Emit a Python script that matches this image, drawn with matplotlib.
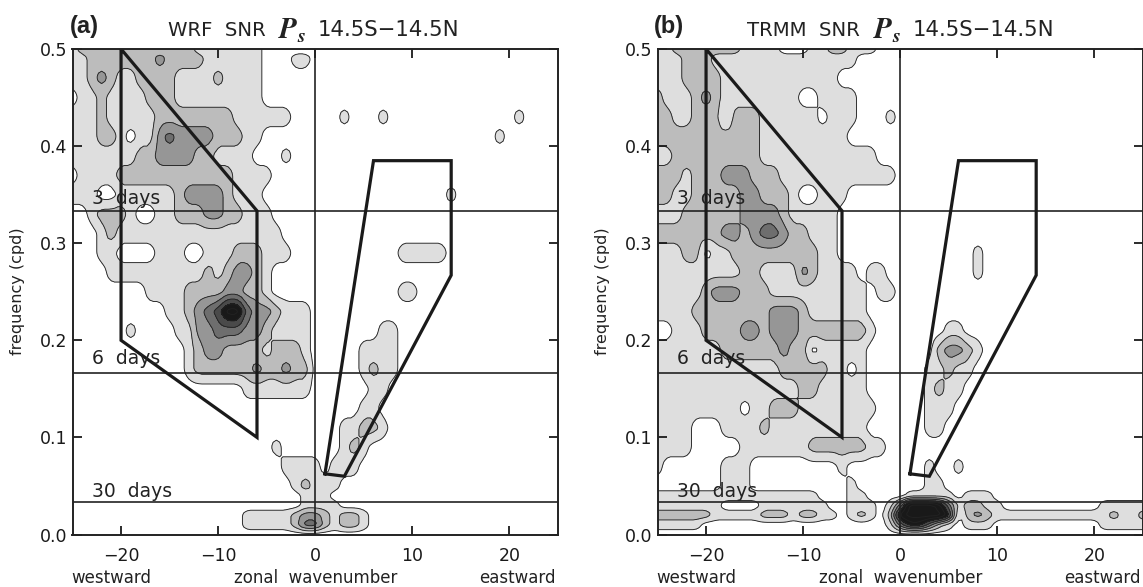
import numpy as np
import matplotlib
matplotlib.use("Agg")
import matplotlib.pyplot as plt

plt.rcParams['font.family'] = ['DejaVu Sans']
plt.rcParams['mathtext.fontset'] = 'stix'

W, H = 1143, 587

wavenumbers = list(range(-25, 26))
frequencies = [.50, .49, .47, .45, .43, .41, .39, .37, .35, .33, .31, .29, .27, .25, .23,
               .21, .19, .17, .15, .13, .11, .09, .07, .05, .04, .03, .02, .01, .00]

# SNR class per cell. Columns: k = -25.. in groups of five.
wrf_rows = [
    "12222 22222 22211 11111",
    "11222 22223 22221 11111 00011",
    "11232 11222 21111 21111",
    "01121 11122 21111 11111",
    "11121 11112 22222 22111 11100 00010 00100 00000 00000 01000",
    "11122 10113 43333 22211 00000 00000 00000 00000 00001",
    "11111 11223 33322 11110 00100",
    "01111 22222 22222 22111 10000",
    "11100 11111 12333 32111 00000 00000 00000 00001",
    "00122 21001 12223 32211 10000",
    "00012 11111 11111 11111 11000",
    "00011 00001 11001 11222 11100 00000 00001 11110",
    "00001 11111 11112 12332 10000",
    "00000 00011 11222 23322 10000 00000 00001 10000",
    "00000 00000 11234 57743 32111",
    "00000 01000 01133 44433 21111 00000 00110",
    "00000 00000 00123 32222 12221 00000 11110",
    "00000 00000 00122 22223 22322 00000 12110",
    "00000 00000 00000 00011 11111 00000 01100",
    "00000 00000 00000 00000 00000 00000 11000",
    "00000 00000 00000 00000 00000 00011 22100",
    "00000 00000 00000 00000 01000 00012 10000",
    "00000 00000 00000 00000 00111 10111",
    "00000 00000 00000 00000 00012 11100",
    "00000 00000 00000 00000 00001 11000",
    "00000 00000 00000 00000 00001 11100",
    "00000 00000 00000 00011 11123 32122 10000",
    "00000 00000 00000 00011 11124 42122 10000",
    "",
]

trmm_rows = [
    "11222 22221 11100 01122 11100",
    "11122 21111 11111 11111 10000",
    "11122 22111 11111 11110",
    "21112 32111 11111 00111 10000",
    "22112 22022 21111 11011 10001",
    "22222 22222 21111 11111",
    "11222 22222 21111 11111 11100",
    "22212 22333 22211 11111 11111",
    "22112 22223 32221 00111",
    "11122 22223 33321 11110",
    "22222 22332 34432 21110",
    "11122 01122 22222 22110 00000 00000 00010",
    "11111 11112 21111 32111 10110 00000 00010",
    "11111 23332 22111 11111 11011",
    "11112 22222 22333 21111 11000",
    "00111 22223 32333 22222 22100 00000 11000",
    "11111 11222 22232 20111 11000 00002 33210",
    "11111 11111 11122 22211 01000 00011 21100",
    "11111 11111 11111 22111 11000 00012 11000",
    "11111 11110 11222 11111 11100 00011 10000",
    "11110 00111 12111 11111 11000 00011",
    "11110 00001 11111 12222 22110",
    "10000 00111 00000 00001 00000 00010 01000",
    "00000 00111 00000 00000 10000 00011",
    "11111 11111 11111 11000 11000 01111 10111",
    "11111 11000 01111 11100 11101 48887 41221 10000 00000 01111 1",
    "22222 21111 12221 22110 12102 78888 60232 11111 11111 11211 2",
    "11111 00000 00000 00000 00001 46642 10111 00000 00000 01111 1",
    "",
]

westward_box_k = [-20, -6, -6, -20, -20]
westward_box_f = [.5, 1/3, .1, .2, .5]
eastward_box_k = [1, 3, 14, 14, 6, 1]
eastward_box_f = [.0625, .06, .267, .385, .385, .0625]
period_days = [3, 6, 30]
period_labels = ["3  days", "6  days", "30  days"]
period_label_f = [.3465, .1815, .0445]
xticks = [-20, -10, 0, 10, 20]
xticklabels = ["\u221220", "\u221210", "0", "10", "20"]
yticks = [0, .1, .2, .3, .4, .5]
yticklabels = ["0.0", "0.1", "0.2", "0.3", "0.4", "0.5"]
levels = [.5, 1.5, 2.5, 3.5, 4.5, 5.5, 9]
greys = ["#dedede", "#bcbcbc", "#969696", "#6e6e6e", "#4a4a4a", "#191919"]
rings = [.5, 1.5, 2.5, 3.5, 4.5, 5.5, 6.5, 7.5]


def parse(rows):
    out = []
    for r in rows:
        s = r.replace(" ", "").ljust(len(wavenumbers), "0")
        out.append([int(c) for c in s])
    return np.array(out, dtype=float)


def refine(Z):
    """Put the coarse table on a finer mesh and soften its corners a little."""
    k = np.array(wavenumbers, float)
    f = np.array(frequencies)[::-1]
    kk = np.linspace(-25, 25, 151)
    ff = np.linspace(0, .5, 301)
    A = np.array([np.interp(kk, k, row) for row in Z[::-1]])
    B = np.array([np.interp(ff, f, col) for col in A.T]).T
    P = np.pad(B, 1, mode="edge")
    S = np.zeros_like(B)
    for dj in (-1, 0, 1):
        for di in (-1, 0, 1):
            S += P[1 + dj:P.shape[0] - 1 + dj, 1 + di:P.shape[1] - 1 + di]
    return kk, ff, S / 9


def panel(left, right, rows, letter, letter_x, head, head_x, sym_x, tail_x):
    top, bottom = 49, 534.5
    ax = fig.add_axes([left / W, 1 - bottom / H, (right - left) / W, (bottom - top) / H])
    kk, ff, Z = refine(parse(rows))
    ax.contourf(kk, ff, Z, levels=levels, colors=greys, zorder=1)
    ax.contour(kk, ff, Z, levels=rings, colors="#222222", linewidths=0.65, zorder=1.5)
    ax.set_xlim(-25, 25)
    ax.set_ylim(0, .5)
    for d in period_days:
        ax.axhline(1 / d, color="#222222", lw=1.2, zorder=3)
    ax.axvline(0, color="#222222", lw=1.2, zorder=3)
    ax.plot(westward_box_k, westward_box_f, color="#1a1a1a", lw=2.3, zorder=4,
            solid_joinstyle="miter")
    ax.plot(eastward_box_k, eastward_box_f, color="#1a1a1a", lw=2.3, zorder=4,
            solid_joinstyle="miter")
    for lab, f in zip(period_labels, period_label_f):
        ax.text(-23, f, lab, fontsize=13.5, color="#222222", va="center", ha="left", zorder=5)
    ax.set_xticks(xticks, xticklabels)
    ax.set_yticks(yticks, yticklabels)
    ax.tick_params(direction="in", length=6.5, width=1.3, top=True, right=True,
                   labelsize=12.5, colors="#1a1a1a")
    ax.tick_params(axis="x", pad=9)
    ax.tick_params(axis="y", pad=4)
    for s in ax.spines.values():
        s.set_linewidth(1.4)
        s.set_color("#222222")
        s.set_zorder(6)
    ax.set_axisbelow(False)
    fig.text(letter_x / W, 1 - 27 / H, letter, fontsize=17, fontweight="bold",
             family="Liberation Sans", va="center", ha="left", color="#222222")
    fig.text(head_x / W, 1 - 30 / H, head, fontsize=14.2, va="center", ha="left", color="#222222")
    fig.text(sym_x / W, 1 - 31 / H, "$\\mathbfit{P_s}$", fontsize=21, va="center", ha="left",
             color="#222222")
    fig.text(tail_x / W, 1 - 30 / H, "14.5S\u221214.5N", fontsize=15.3, va="center", ha="left",
             color="#222222")
    fig.text((left - 55) / W, 1 - 291 / H, "frequency (cpd)", fontsize=11.5, rotation=90,
             va="center", ha="center", color="#222222")
    zero = left + (right - left) / 2
    for lab, xp in zip(["westward", "zonal  wavenumber", "eastward"],
                       [left + 38.5, zero, left + 445]):
        fig.text(xp / W, 1 - 578 / H, lab, fontsize=12, va="center", ha="center",
                 color="#222222")


fig = plt.figure(figsize=(W / 100, H / 100), dpi=100)
panel(72.5, 558, wrf_rows, "(a)", 70, "WRF  SNR", 168, 278, 318)
panel(657.5, 1143, trmm_rows, "(b)", 654, "TRMM  SNR", 747, 873, 913)
fig.savefig("out.png", dpi=100)
